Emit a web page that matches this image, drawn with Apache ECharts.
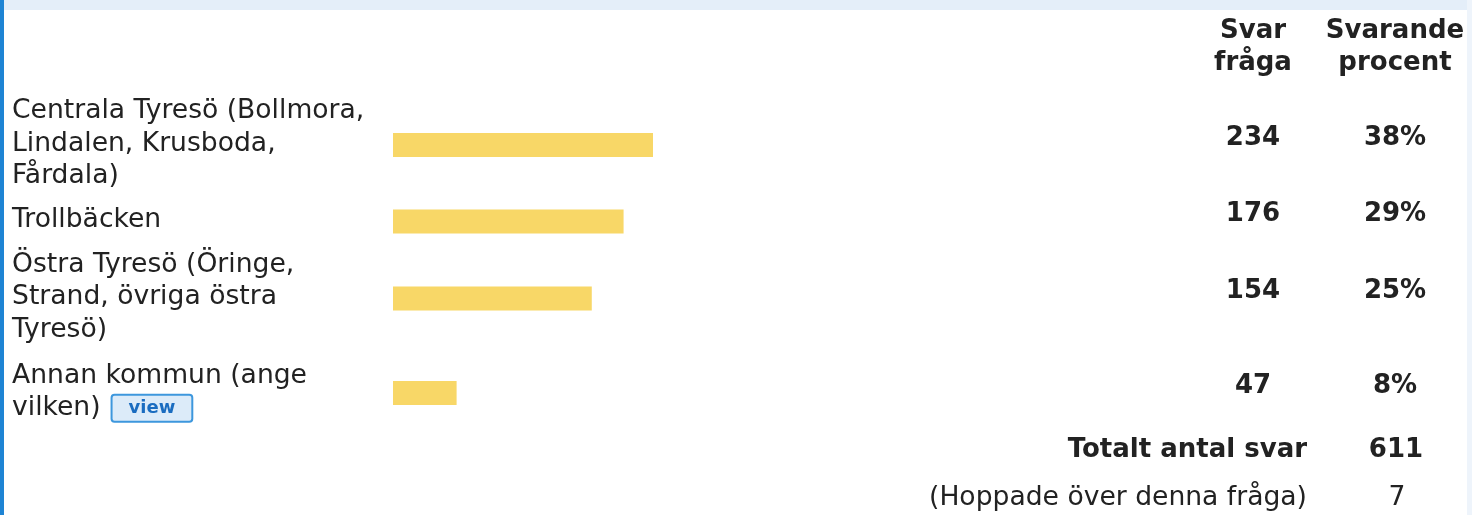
<!DOCTYPE html>
<html>
<head>
<meta charset="utf-8">
<script src="https://cdn.jsdelivr.net/npm/echarts@6/dist/echarts.min.js"></script>
<style>
html,body{margin:0;padding:0;background:#fff;}
#chart{width:1472px;height:515px;}
</style>
</head>
<body>
<div id="chart"></div>
<script>
// ---- data ----
const categories = [
  "Centrala Tyresö (Bollmora,\nLindalen, Krusboda,\nFårdala)",
  "Trollbäcken",
  "Östra Tyresö (Öringe,\nStrand, övriga östra\nTyresö)",
  "Annan kommun (ange\nvilken)"
];
const counts = [234, 176, 154, 47];
const percents = [38, 29, 25, 8];
const headerCount = "Svar\nfråga";
const headerPercent = "Svarande\nprocent";
const totalLabel = "Totalt antal svar";
const totalValue = 611;
const skippedLabel = "(Hoppade över denna fråga)";
const skippedValue = 7;
const viewButton = "view";

// ---- layout (styles only) ----
const FONT = "DejaVu Sans";
const TEXT = "#222";
const rowCenters = [145, 221.5, 298.5, 393];
const barLeft = 393, barAreaWidth = 260, barH = 24;
const axisMax = 32.7; // bar column width limit in percent units

const chart = echarts.init(document.getElementById('chart'));

const grids = [], xAxes = [], yAxes = [], series = [];
categories.forEach((cat, i) => {
  grids.push({left: barLeft, top: rowCenters[i] - barH / 2, width: barAreaWidth, height: barH, containLabel: false});
  xAxes.push({type: 'value', gridIndex: i, min: 0, max: axisMax, show: false});
  const isLast = i === categories.length - 1;
  yAxes.push({
    type: 'category', gridIndex: i, data: [cat], position: 'left',
    axisLine: {show: false}, axisTick: {show: false}, splitLine: {show: false},
    axisLabel: {
      show: true, align: 'left', margin: barLeft - 12,
      fontFamily: FONT, fontSize: 26.6, color: TEXT, lineHeight: 32.5,
      padding: [0, 0, 2, 0],
      formatter: v => isLast ? v + "{sp|}{btn|" + viewButton + "}" : v,
      rich: {
        sp: {width: 12},
        btn: {
          fontFamily: FONT, fontSize: 18, fontWeight: 'bold', color: '#1a6cc0',
          backgroundColor: '#dcebf9', borderColor: '#3d97dd', borderWidth: 2,
          borderRadius: 2, padding: [4, 16, 3, 16], lineHeight: 22
        }
      }
    }
  });
  yAxes.push({
    type: 'category', gridIndex: i, data: [counts[i] + "|" + percents[i]], position: 'right',
    axisLine: {show: false}, axisTick: {show: false}, splitLine: {show: false},
    axisLabel: {
      show: true, align: 'left', margin: 1182 - (barLeft + barAreaWidth),
      formatter: v => { const p = v.split("|"); return "{a|" + p[0] + "}{b|" + p[1] + "%}"; },
      rich: {
        a: {fontFamily: FONT, fontSize: 26, fontWeight: 'bold', color: TEXT, width: 142, align: 'center', padding: [0, 0, 14, 0]},
        b: {fontFamily: FONT, fontSize: 26, fontWeight: 'bold', color: TEXT, width: 142, align: 'center', padding: [0, 0, 14, 0]}
      }
    }
  });
  series.push({
    type: 'bar', xAxisIndex: i, yAxisIndex: i * 2, data: [percents[i]],
    barWidth: barH, clip: true, silent: true,
    itemStyle: {color: '#f8d767'}
  });
});

const txt = (text, x, y, align, bold, size) => ({
  type: 'text', x: x, y: y, silent: true,
  style: {text: String(text), textAlign: align, textVerticalAlign: 'middle',
    font: (bold ? 'bold ' : '') + size + 'px "' + FONT + '"', fill: TEXT, lineHeight: 32.5}
});

chart.setOption({
  animation: false,
  backgroundColor: '#ffffff',
  grid: grids, xAxis: xAxes, yAxis: yAxes, series: series,
  graphic: [
    {type: 'rect', shape: {x: 0, y: 0, width: 1472, height: 10}, style: {fill: '#e4eef9'}, silent: true},
    {type: 'rect', shape: {x: 0, y: 0, width: 4, height: 515}, style: {fill: '#1e84d4'}, silent: true},
    {type: 'rect', shape: {x: 1467, y: 0, width: 5, height: 515}, style: {fill: '#eef4fb'}, silent: true},
    txt(headerCount, 1253, 47, 'center', true, 26),
    txt(headerPercent, 1395, 47, 'center', true, 26),
    txt(totalLabel, 1307, 450, 'right', true, 26),
    txt(totalValue, 1396, 450, 'center', true, 26),
    txt(skippedLabel, 1307, 498, 'right', false, 26.6),
    txt(skippedValue, 1397, 498, 'center', false, 26.6)
  ]
});
</script>
</body>
</html>
